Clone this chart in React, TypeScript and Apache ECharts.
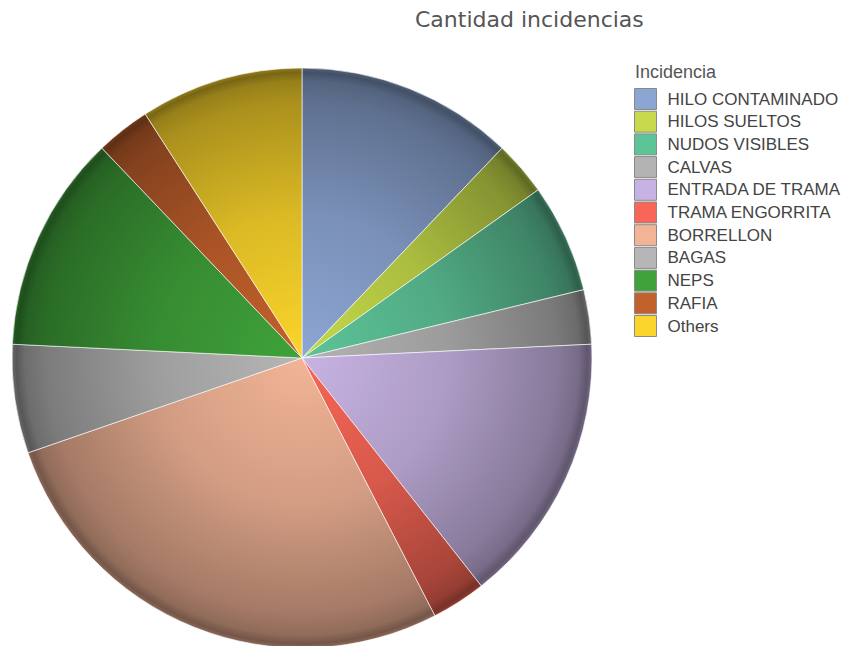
import React, { useEffect, useRef } from "react";
import * as echarts from "echarts";

const categories = [
  "HILO CONTAMINADO",
  "HILOS SUELTOS",
  "NUDOS VISIBLES",
  "CALVAS",
  "ENTRADA DE TRAMA",
  "TRAMA ENGORRITA",
  "BORRELLON",
  "BAGAS",
  "NEPS",
  "RAFIA",
  "Others",
];
const values = [4, 1, 2, 1, 5, 1, 9, 2, 4, 1, 3];
const baseColors = [
  "#8CA6D4",
  "#C5D94A",
  "#5DC498",
  "#B3B3B3",
  "#C7B3E3",
  "#F76656",
  "#F2B496",
  "#B6B6B6",
  "#3FA23A",
  "#C3612C",
  "#FBD52B",
];
const chartTitle = "Cantidad incidencias";
const legendTitle = "Incidencia";

function shade(hex: string, f: number): string {
  const h = hex.replace("#", "");
  const r = Math.round(parseInt(h.slice(0, 2), 16) * f);
  const g = Math.round(parseInt(h.slice(2, 4), 16) * f);
  const b = Math.round(parseInt(h.slice(4, 6), 16) * f);
  const c = (v: number) => Math.max(0, Math.min(255, v)).toString(16).padStart(2, "0");
  return "#" + c(r) + c(g) + c(b);
}

const CX = 302;
const CY = 358;
const R = 290;

export default function App() {
  const ref = useRef<HTMLDivElement>(null);
  useEffect(() => {
    if (!ref.current) return;
    const chart = echarts.init(ref.current, null, { renderer: "svg" });
    const data = categories.map((name, i) => ({
      name,
      value: values[i],
      itemStyle: {
        color: {
          type: "radial",
          x: CX,
          y: CY,
          r: R,
          global: true,
          colorStops: [
            { offset: 0, color: shade(baseColors[i], 1.0) },
            { offset: 0.5, color: shade(baseColors[i], 0.87) },
            { offset: 0.88, color: shade(baseColors[i], 0.68) },
            { offset: 0.955, color: shade(baseColors[i], 0.6) },
            { offset: 0.985, color: shade(baseColors[i], 0.48) },
            { offset: 1, color: shade(baseColors[i], 0.58) },
          ],
        },
      },
    }));
    chart.setOption({
      animation: false,
      backgroundColor: "#ffffff",
      title: [
        {
          text: chartTitle,
          left: 415,
          top: 8,
          padding: 0,
          textStyle: {
            fontFamily: "DejaVu Sans",
            fontSize: 22,
            fontWeight: "normal",
            color: "#555555",
          },
        },
        {
          text: legendTitle,
          left: 635,
          top: 63,
          padding: 0,
          textStyle: {
            fontFamily: "Liberation Sans",
            fontSize: 18,
            fontWeight: "normal",
            color: "#555555",
          },
        },
      ],
      legend: {
        orient: "vertical",
        left: 634,
        top: 88,
        padding: 0,
        itemWidth: 22,
        itemHeight: 21,
        itemGap: 0.7,
        icon: "rect",
        selectedMode: false,
        textStyle: {
          fontFamily: "Liberation Sans",
          fontSize: 17,
          color: "#444444",
          lineHeight: 21,
          padding: [0, 0, 0, 6],
        },
        data: categories.map((name, i) => ({
          name,
          itemStyle: { color: baseColors[i], borderColor: "#8a8a8a", borderWidth: 1 },
        })),
      },
      series: [
        {
          type: "pie",
          center: [CX, CY],
          radius: [0, R],
          startAngle: 90,
          clockwise: true,
          label: { show: false },
          labelLine: { show: false },
          emphasis: { disabled: true },
          itemStyle: { borderColor: "rgba(255,255,255,0.6)", borderWidth: 1 },
          data,
        },
      ],
    });
    return () => chart.dispose();
  }, []);
  return (
    <div
      ref={ref}
      style={{ position: "fixed", left: 0, top: 0, width: 846, height: 646 }}
    />
  );
}
